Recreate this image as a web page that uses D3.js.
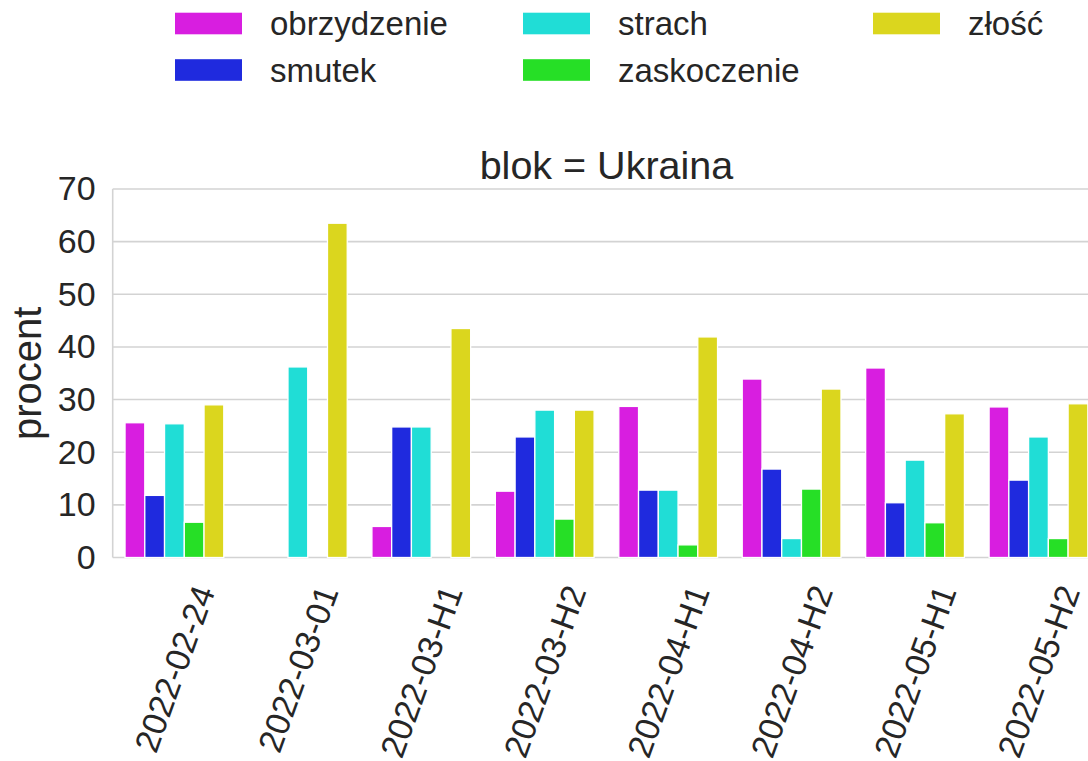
<!DOCTYPE html>
<html><head><meta charset="utf-8">
<script src="https://cdn.jsdelivr.net/npm/d3@7"></script>
<style>body{margin:0;background:#fff}svg{display:block;font-family:"Liberation Sans",Arial,sans-serif}</style>
</head><body><svg id="c" width="1088" height="761"></svg>
<script>
const categories = ["2022-02-24","2022-03-01","2022-03-H1","2022-03-H2","2022-04-H1","2022-04-H2","2022-05-H1","2022-05-H2"];
const seriesNames = ["obrzydzenie","smutek","strach","zaskoczenie","złość"];
const obrzydzenie = [25.6, 0, 5.9, 12.6, 28.7, 33.9, 36.0, 28.6];
const smutek      = [11.8, 0, 24.8, 22.9, 12.8, 16.8, 10.4, 14.7];
const strach      = [25.4, 36.2, 24.8, 28.0, 12.8, 3.6, 18.5, 22.9];
const zaskoczenie = [6.7, 0, 0, 7.3, 2.4, 13.0, 6.6, 3.6];
const zlosc       = [29.0, 63.5, 43.5, 28.0, 41.9, 32.0, 27.3, 29.2];
const yTicks = [0,10,20,30,40,50,60,70];
const colors = ["#d81ee0","#1f2ade","#20ddd6","#26df26","#dbd61e"];
const titleText = "blok = Ukraina";
const yLabel = "procent";

const seriesValues = [obrzydzenie, smutek, strach, zaskoczenie, zlosc];
const svg = d3.select("#c");
const L = 112.7, R = 1100.2, T = 189, B = 557.5;
const textColor = "#262626", gridColor = "#d3d3d3";

const x = d3.scaleBand().domain(categories).range([L, R]).paddingInner(0).paddingOuter(0);
const xi = d3.scaleBand().domain(seriesNames).range([0, x.bandwidth()*0.8]);
const y = d3.scaleLinear().domain([0,70]).range([B, T]);
const color = d3.scaleOrdinal().domain(seriesNames).range(colors);

// grid
svg.append("g").selectAll("line").data(yTicks).join("line")
  .attr("x1", L).attr("x2", R).attr("y1", d=>y(d)).attr("y2", d=>y(d))
  .attr("stroke", gridColor).attr("stroke-width", 1.6);
// left spine
svg.append("line").attr("x1", L).attr("x2", L).attr("y1", T).attr("y2", B)
  .attr("stroke", gridColor).attr("stroke-width", 1.6);

// bars
const off = x.bandwidth()*0.1;
seriesNames.forEach((s, si) => {
  svg.append("g").selectAll("rect").data(categories.map((c,i)=>({c, v: seriesValues[si][i]}))).join("rect")
    .attr("x", d => x(d.c) + off + xi(s))
    .attr("width", xi.bandwidth())
    .attr("y", d => y(d.v))
    .attr("height", d => y(0) - y(d.v))
    .attr("fill", color(s))
    .attr("stroke", "#fff").attr("stroke-width", 1.3);
});

// y axis tick labels
const yAxis = d3.axisLeft(y).tickValues(yTicks).tickSize(0).tickPadding(17);
const gy = svg.append("g").attr("transform", `translate(${L},0)`).call(yAxis);
gy.select(".domain").remove();
gy.selectAll("text").attr("font-size", 34).attr("fill", textColor).attr("font-family", "Liberation Sans, Arial, sans-serif");

// x tick labels rotated 70
const ang = -70 * Math.PI/180;
const xg = svg.append("g");
categories.forEach(c => {
  const g = xg.append("g");
  const t = g.append("text").text(c).attr("font-size", 34).attr("fill", textColor)
    .attr("text-anchor", "end").attr("transform", "rotate(-70)");
  const bb = t.node().getBBox();
  const corners = [[bb.x,bb.y],[bb.x+bb.width,bb.y],[bb.x,bb.y+bb.height],[bb.x+bb.width,bb.y+bb.height]]
    .map(([px,py]) => [px*Math.cos(ang) - py*Math.sin(ang), px*Math.sin(ang) + py*Math.cos(ang)]);
  const minX = d3.min(corners, p=>p[0]), maxX = d3.max(corners, p=>p[0]);
  const minY = d3.min(corners, p=>p[1]);
  const cx = x(c) + x.bandwidth()/2;
  g.attr("transform", `translate(${cx - (minX+maxX)/2},${B + 23 - minY})`);
});

// title
svg.append("text").attr("x", (L+R)/2).attr("y", 179).attr("text-anchor", "middle")
  .attr("font-size", 39.5).attr("fill", textColor).text(titleText);

// y label
svg.append("text").attr("transform", `translate(41,${(T+B)/2}) rotate(-90)`).attr("text-anchor", "middle")
  .attr("font-size", 40).attr("fill", textColor).text(yLabel);

// legend (3 columns, column-major)
const legCols = [175, 523, 873];
const legRows = [23.5, 70];
const leg = svg.append("g");
seriesNames.forEach((s, i) => {
  const col = Math.floor(i/2), row = i%2;
  const gx = legCols[col], gyy = legRows[row];
  leg.append("rect").attr("x", gx).attr("y", gyy - 10.8).attr("width", 67).attr("height", 21.6).attr("fill", color(s));
  leg.append("text").attr("x", gx + 95).attr("y", gyy + 11.5).attr("font-size", 33).attr("fill", textColor).text(s);
});
</script></body></html>
